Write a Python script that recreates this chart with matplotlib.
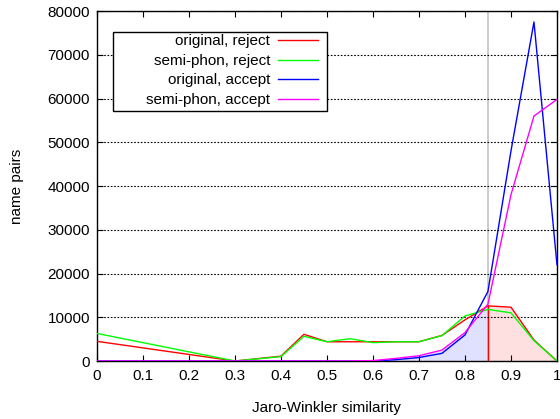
import matplotlib
matplotlib.use("Agg")
import matplotlib.pyplot as plt
from matplotlib.patches import Rectangle
import numpy as np

plt.rcParams['font.family'] = ['Liberation Sans', 'DejaVu Sans']

x = [0.0, 0.3, 0.4, 0.45, 0.5, 0.55, 0.6, 0.65, 0.7, 0.75, 0.8, 0.85, 0.9, 0.95, 1.0]
orig_reject = [4500, 0, 1100, 6100, 4400, 4400, 4400, 4400, 4400, 5850, 9400, 12600, 12300, 4800, 0]
semi_reject = [6300, 0, 1000, 5650, 4400, 5100, 4200, 4400, 4400, 5800, 10300, 11800, 11000, 4650, 0]
orig_accept = [0, 0, 0, 0, 0, 0, 0, 300, 800, 1750, 5950, 15900, 48000, 77500, 22000]
semi_accept = [0, 0, 0, 0, 0, 0, 100, 600, 1200, 2500, 6500, 13000, 38000, 56000, 59800]
threshold = 0.85

labels = ["original, reject", "semi-phon, reject", "original, accept", "semi-phon, accept"]
colors = ["#ff0000", "#00ff00", "#0000ff", "#ff00ff"]

xs = np.array(x)
fig = plt.figure(figsize=(5.6, 4.19), dpi=100)
ax = fig.add_axes([0.173, 0.1384, 0.8216, 0.8353])

# fills
mask_lo = xs <= threshold + 1e-9
mask_hi = xs >= threshold - 1e-9
ax.fill_between(xs[mask_lo], 0, np.array(semi_accept)[mask_lo], color="#0000ff", alpha=0.12, linewidth=0)
ax.fill_between(xs[mask_hi], 0, np.array(orig_reject)[mask_hi], color="#ff0000", alpha=0.12, linewidth=0)

# threshold line
ax.axvline(threshold, color="#c8c8c8", linewidth=1.3, zorder=1)
r_at = orig_reject[x.index(threshold)]
ax.plot([threshold, threshold], [0, r_at], color="#ff0000", linewidth=1.0, zorder=2)

series = [orig_reject, semi_reject, orig_accept, semi_accept]
for ys, c, lab in zip(series, colors, labels):
    ax.plot(x, ys, color=c, linewidth=1.0, label=lab, zorder=3)

ax.set_xlim(0, 1)
ax.set_ylim(0, 80000)
ax.set_xticks(np.arange(0, 1.01, 0.1))
ax.set_xticklabels(["0", "0.1", "0.2", "0.3", "0.4", "0.5", "0.6", "0.7", "0.8", "0.9", "1"])
ax.set_yticks(np.arange(0, 80001, 10000))
ax.set_yticklabels([str(v) for v in range(0, 80001, 10000)])
ax.tick_params(direction='in', top=True, right=True, length=4, width=0.8, labelsize=11)
ax.tick_params(axis='x', pad=6)
ax.tick_params(axis='y', pad=5)
for s in ax.spines.values():
    s.set_linewidth(1.0)
ax.yaxis.grid(True, linestyle=(0, (1.5, 1.5)), color='black', linewidth=0.8)
ax.set_axisbelow(False)

ax.set_xlabel("Jaro-Winkler similarity", fontsize=11, labelpad=13)
ax.set_ylabel("name pairs", fontsize=11, labelpad=17)

# legend box (gnuplot style)
box = Rectangle((0.0354, 0.7151), 0.4993 - 0.0354, 0.9391 - 0.7151, transform=ax.transAxes,
                facecolor='white', edgecolor='black', linewidth=1.0, zorder=4)
ax.add_patch(box)
leg = ax.legend(loc='upper right', bbox_to_anchor=(0.4798, 0.933), borderaxespad=0,
                markerfirst=False, frameon=False,
                fontsize=11, handlelength=2.6, handletextpad=0.5, labelspacing=0.36,
                borderpad=0)
for t in leg.get_texts():
    t.set_ha('right')
leg._legend_box.align = "right"
leg.set_zorder(5)

fig.savefig("out.png", dpi=100)
